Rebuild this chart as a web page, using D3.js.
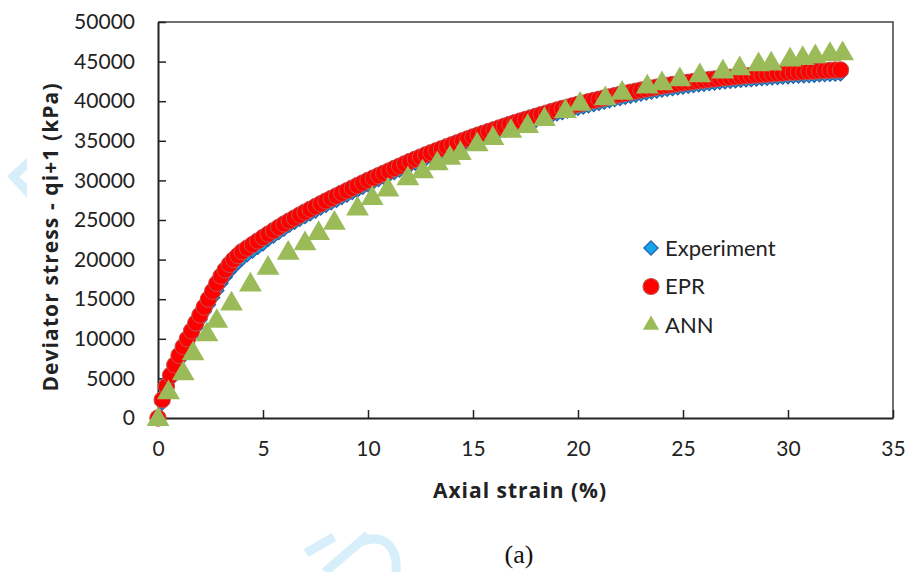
<!DOCTYPE html>
<html>
<head>
<meta charset="utf-8">
<script src="https://cdn.jsdelivr.net/npm/d3@7"></script>
<style>
  body { margin: 0; background: #fff; }
  svg { display: block; }
  .tick text { font-family: Lato, "Open Sans", sans-serif; font-size: 21px; fill: #222; }
</style>
</head>
<body>
<svg width="908" height="572"></svg>
<script>
// strain (%) for the measured / EPR points
var strain = [
  0, 0.2, 0.4, 0.6, 0.8, 1.0, 1.2, 1.4, 1.6, 1.8, 2.0, 2.2, 2.4, 2.6, 2.8, 3.0, 3.2, 3.4, 3.6, 3.8, 4.0,
  4.25, 4.5, 4.75, 5, 5.25, 5.5, 5.75, 6, 6.25, 6.5, 6.75, 7, 7.25, 7.5, 7.75, 8,
  8.25, 8.5, 8.75, 9, 9.25, 9.5, 9.75, 10, 10.25, 10.5, 10.75, 11, 11.25, 11.5, 11.75, 12,
  12.25, 12.5, 12.75, 13, 13.25, 13.5, 13.75, 14, 14.25, 14.5, 14.75, 15, 15.25, 15.5, 15.75, 16,
  16.25, 16.5, 16.75, 17, 17.25, 17.5, 17.75, 18, 18.25, 18.5, 18.75, 19, 19.25, 19.5, 19.75, 20,
  20.25, 20.5, 20.75, 21, 21.25, 21.5, 21.75, 22, 22.25, 22.5, 22.75, 23, 23.25, 23.5, 23.75, 24,
  24.25, 24.5, 24.75, 25, 25.25, 25.5, 25.75, 26, 26.25, 26.5, 26.75, 27, 27.25, 27.5, 27.75, 28,
  28.25, 28.5, 28.75, 29, 29.25, 29.5, 29.75, 30, 30.25, 30.5, 30.75, 31, 31.25, 31.5, 31.75, 32,
  32.25, 32.5
];

var experiment = [
  0, 1900, 3500, 4900, 6200, 7300, 8400, 9400, 10400, 11400, 12400, 13400, 14300, 15200, 16100, 17000, 17800, 18500, 19100, 19600, 20100,
  20650, 21100, 21550, 22000, 22560, 22980, 23410, 23850, 24330, 24700, 25080, 25450, 25800, 26150, 26500, 26850,
  27180, 27500, 27830, 28150, 28480, 28800, 29130, 29450, 29800, 30100, 30400, 30700, 31000, 31300, 31600, 31900,
  32180, 32450, 32730, 33000, 33250, 33500, 33750, 34000, 34250, 34500, 34750, 35000, 35230, 35450, 35680, 35900,
  36130, 36350, 36580, 36800, 37000, 37200, 37400, 37600, 37800, 38000, 38200, 38400, 38580, 38750, 38930, 39100,
  39260, 39430, 39590, 39750, 39900, 40050, 40200, 40350, 40490, 40630, 40760, 40900, 41030, 41150, 41280, 41400,
  41500, 41600, 41700, 41800, 41890, 41980, 42060, 42150, 42230, 42300, 42380, 42450, 42510, 42580, 42640, 42700,
  42750, 42800, 42850, 42900, 42950, 43000, 43050, 43100, 43140, 43180, 43210, 43250, 43290, 43330, 43360, 43400,
  43430, 43450
];

var epr = [
  0, 2300, 4000, 5400, 6700, 7900, 9000, 10000, 11000, 12000, 13000, 14000, 15000, 16000, 17000, 17900, 18700, 19400, 20000, 20500, 21000,
  21450, 21900, 22350, 22800, 23230, 23650, 24080, 24500, 24880, 25250, 25630, 26000, 26350, 26700, 27050, 27400,
  27730, 28050, 28380, 28700, 29030, 29350, 29680, 30000, 30300, 30600, 30900, 31200, 31500, 31800, 32100, 32400,
  32680, 32950, 33230, 33500, 33750, 34000, 34250, 34500, 34750, 35000, 35250, 35500, 35730, 35950, 36180, 36400,
  36630, 36850, 37080, 37300, 37500, 37700, 37900, 38100, 38300, 38500, 38700, 38900, 39080, 39250, 39430, 39600,
  39760, 39930, 40090, 40250, 40400, 40550, 40700, 40850, 40990, 41130, 41260, 41400, 41530, 41650, 41780, 41900,
  42000, 42100, 42200, 42300, 42390, 42480, 42560, 42650, 42730, 42800, 42880, 42950, 43010, 43080, 43140, 43200,
  43250, 43300, 43350, 43400, 43450, 43500, 43550, 43600, 43640, 43680, 43710, 43750, 43790, 43830, 43860, 43900,
  43930, 43950
];

// ANN predictions (own strain points)
var annStrain = [0, 0.5, 1.2, 1.67, 2.33, 2.8, 3.5, 4.4, 5.24, 6.2, 7.0, 7.65, 8.4, 9.5, 10.2, 10.95,
  11.9, 12.6, 13.3, 13.9, 14.4, 15.2, 15.95, 16.8, 17.6, 18.4, 19.4, 20.1, 21.3, 22.1, 23.3, 24.0,
  24.85, 25.8, 26.9, 27.7, 28.6, 29.2, 30.1, 30.7, 31.3, 32.0, 32.6];
var ann = [0, 3400, 5800, 8300, 10700, 12400, 14600, 17000, 19100, 21000, 22200, 23500, 24800, 26600, 27900, 29000,
  30400, 31300, 32300, 33000, 33600, 34700, 35500, 36400, 37000, 37900, 38900, 39800, 40500, 41200, 42000, 42400,
  42900, 43400, 43900, 44300, 44800, 44900, 45400, 45600, 45800, 46100, 46200];

var xTicks = [0, 5, 10, 15, 20, 25, 30, 35];
var yTicks = [0, 5000, 10000, 15000, 20000, 25000, 30000, 35000, 40000, 45000, 50000];
var seriesNames = ["Experiment", "EPR", "ANN"];

var svg = d3.select("svg"),
    margin = { top: 22, right: 15, bottom: 154, left: 158 },
    width = +svg.attr("width") - margin.left - margin.right,
    height = +svg.attr("height") - margin.top - margin.bottom;

var x = d3.scaleLinear().domain([0, 35]).range([0, width]),
    y = d3.scaleLinear().domain([0, 50000]).range([height, 0]);

// faint watermark bits from the scanned page
svg.append("polygon")
    .attr("points", "27,158 7,176 27,198 27,184 19,177 27,170")
    .attr("fill", "#d6effb");
svg.append("path")
    .attr("d", "M306,553 L334,537")
    .attr("stroke", "#d6effb").attr("stroke-width", 9).attr("fill", "none");
svg.append("path")
    .attr("d", "M325,572 L368,535 M360,542 C385,532 398,548 396,572")
    .attr("stroke", "#d6effb").attr("stroke-width", 9).attr("fill", "none");

var g = svg.append("g")
    .attr("transform", "translate(" + margin.left + "," + margin.top + ")");

// plot area frame (top + right)
g.append("path")
    .attr("d", "M0,0 H" + width + " V" + height)
    .attr("fill", "none")
    .attr("stroke", "#404040")
    .attr("stroke-width", 1.5);

g.append("g")
    .attr("class", "axis axis--x")
    .attr("transform", "translate(0," + height + ")")
    .call(d3.axisBottom(x).tickValues(xTicks).tickSizeInner(-8).tickSizeOuter(0).tickPadding(23))
    .call(function(a) {
        a.select(".domain").attr("stroke", "#222").attr("stroke-width", 2);
        a.selectAll(".tick line").attr("stroke", "#222").attr("stroke-width", 1.5);
    });

g.append("g")
    .attr("class", "axis axis--y")
    .call(d3.axisLeft(y).tickValues(yTicks).tickFormat(d3.format("d")).tickSizeInner(-8).tickSizeOuter(0).tickPadding(23))
    .call(function(a) {
        a.select(".domain").attr("stroke", "#222").attr("stroke-width", 2);
        a.selectAll(".tick line").attr("stroke", "#222").attr("stroke-width", 1.5);
    });

// axis titles
svg.append("text")
    .attr("transform", "translate(52," + 237 + ") rotate(-90)")
    .attr("text-anchor", "middle")
    .attr("dominant-baseline", "middle")
    .style("font-family", "'Open Sans', sans-serif")
    .style("font-weight", "bold")
    .style("font-size", "21px")
    .style("letter-spacing", "1.1px")
    .attr("fill", "#222")
    .text("Deviator stress - qi+1 (kPa)");

svg.append("text")
    .attr("x", 520).attr("y", 498)
    .attr("text-anchor", "middle")
    .style("font-family", "'Open Sans', sans-serif")
    .style("font-weight", "bold")
    .style("font-size", "21px")
    .style("letter-spacing", "1px")
    .attr("fill", "#222")
    .text("Axial strain  (%)");

svg.append("text")
    .attr("x", 519).attr("y", 563)
    .attr("text-anchor", "middle")
    .style("font-family", "'Liberation Serif', serif")
    .style("font-size", "26px")
    .attr("fill", "#111")
    .text("(a)");

var expData = strain.map(function(s, i) { return { s: s, v: experiment[i] }; });
var eprData = strain.map(function(s, i) { return { s: s, v: epr[i] }; });
var annData = annStrain.map(function(s, i) { return { s: s, v: ann[i] }; });

var diamond = d3.symbol().type(d3.symbolDiamond2).size(130);
var tri = d3.symbol().type(d3.symbolTriangle).size(225);

g.selectAll(".exp")
    .data(expData)
    .enter().append("path")
    .attr("class", "exp")
    .attr("d", diamond)
    .attr("transform", function(d) { return "translate(" + x(d.s) + "," + y(d.v) + ")"; })
    .attr("fill", "#14a4ec")
    .attr("stroke", "#1f5fa8")
    .attr("stroke-width", 1.2);

g.selectAll(".epr")
    .data(eprData)
    .enter().append("circle")
    .attr("class", "epr")
    .attr("cx", function(d) { return x(d.s); })
    .attr("cy", function(d) { return y(d.v); })
    .attr("r", 8.2)
    .attr("fill", "#ff0000")
    .attr("stroke", "#c0504d")
    .attr("stroke-width", 1);

g.selectAll(".ann")
    .data(annData)
    .enter().append("path")
    .attr("class", "ann")
    .attr("d", tri)
    .attr("transform", function(d) { return "translate(" + x(d.s) + "," + (y(d.v) + 1.5) + ")"; })
    .attr("fill", "#9bbb59");

// legend
var lg = svg.append("g").attr("transform", "translate(651,248)");
var item = lg.selectAll("g")
    .data(seriesNames)
    .enter().append("g")
    .attr("transform", function(d, i) { return "translate(0," + (i * 38.5) + ")"; });

item.append("path")
    .attr("d", function(d, i) {
        if (i === 0) return d3.symbol().type(d3.symbolDiamond2).size(130)();
        if (i === 1) return d3.symbol().type(d3.symbolCircle).size(200)();
        return d3.symbol().type(d3.symbolTriangle).size(115)();
    })
    .attr("fill", function(d, i) { return ["#14a4ec", "#ff0000", "#9bbb59"][i]; })
    .attr("stroke", function(d, i) { return ["#1f5fa8", "#c0504d", "none"][i]; })
    .attr("stroke-width", 1.2);

item.append("text")
    .attr("x", 14)
    .attr("dy", "0.36em")
    .style("font-family", "Lato, sans-serif")
    .style("font-size", "22px")
    .attr("fill", "#222")
    .text(function(d) { return d; });
</script>
</body>
</html>
